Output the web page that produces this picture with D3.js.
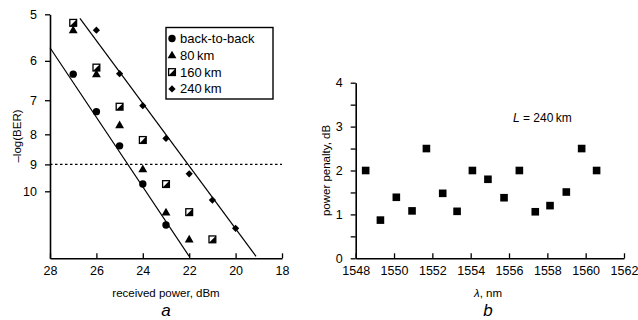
<!DOCTYPE html>
<html>
<head>
<meta charset="utf-8">
<script src="https://cdn.jsdelivr.net/npm/d3@7"></script>
<style>
  body { margin: 0; background: #fff; }
  svg { font-family: "Liberation Sans", Arial, sans-serif; }
  .axis path, .axis line { stroke: #000; }
  .axis text { font-size: 12.5px; fill: #000; }
</style>
</head>
<body>
<svg id="chart" width="638" height="320"></svg>
<script>
// panel a: received power (dBm) vs -log(BER)
var powerB2B = [27, 26, 25, 24, 23];
var berB2B = [6.32, 7.32, 8.37, 9.72, 11.41];
var power80 = [27, 26, 25, 24, 23, 22];
var ber80 = [5.32, 6.32, 7.72, 9.17, 10.86, 12.07];
var power160 = [27, 26, 25, 24, 23, 22, 21];
var ber160 = [5.17, 6.16, 7.18, 8.18, 9.72, 10.85, 12.07];
var power240 = [26, 25, 24, 23, 22, 21, 20];
var ber240 = [5.32, 6.31, 7.15, 8.13, 9.34, 10.35, 11.56];
// fitted lines (endpoints)
var fitLeft = [[28, 5.70], [22, 12.9]];
var fitRight = [[26.71, 5.08], [19.12, 12.9]];
var berLimit = 9;
var powerTicks = [28, 26, 24, 22, 20, 18];
var berTicks = [5, 6, 7, 8, 9, 10];
var legendNames = ["back-to-back", "80\u2009km", "160\u2009km", "240\u2009km"];

// panel b: power penalty vs wavelength, L = 240 km
var lambda = [1548.52, 1549.29, 1550.12, 1550.94, 1551.69, 1552.54, 1553.29, 1554.09,
              1554.9, 1555.74, 1556.54, 1557.37, 1558.14, 1558.99, 1559.79, 1560.57];
var penalty = [2.0, 0.87, 1.39, 1.08, 2.5, 1.48, 1.07, 2.0,
               1.8, 1.38, 2.0, 1.06, 1.2, 1.51, 2.5, 2.0];
var lambdaTicks = [1548, 1550, 1552, 1554, 1556, 1558, 1560, 1562];
var penaltyTicks = [0, 0.5, 1, 1.5, 2, 2.5, 3, 3.5, 4];

var svg = d3.select("#chart");

// ---------- panel a ----------
var xA = d3.scaleLinear().domain([28, 18]).range([50, 282]);
var yA = d3.scaleLog().domain([5, 13]).range([14.3, 258.3]);

var gA = svg.append("g");

gA.append("g")
    .attr("class", "axis")
    .attr("transform", "translate(50,0)")
    .call(d3.axisLeft(yA).tickValues(berTicks).tickFormat(d3.format("d"))
        .tickSizeInner(5).tickSizeOuter(0).tickPadding(8))
    .call(g => g.select(".domain").attr("stroke-width", 1.6))
    .call(g => g.selectAll(".tick line").attr("stroke-width", 1.3));

gA.append("g")
    .attr("class", "axis")
    .attr("transform", "translate(0,258.3)")
    .call(d3.axisBottom(xA).tickValues(powerTicks).tickFormat(d3.format("d"))
        .tickSizeInner(-5).tickSizeOuter(0).tickPadding(8))
    .call(g => g.select(".domain").attr("stroke-width", 1.6))
    .call(g => g.selectAll(".tick line").attr("stroke-width", 1.3));

// BER threshold line
gA.append("line")
    .attr("x1", xA(28)).attr("x2", xA(18))
    .attr("y1", yA(berLimit)).attr("y2", yA(berLimit))
    .attr("stroke", "#000").attr("stroke-width", 1.2)
    .attr("stroke-dasharray", "2.5,2.5");

var line = d3.line().x(d => xA(d[0])).y(d => yA(d[1]));
[fitLeft, fitRight].forEach(function (f) {
  gA.append("path").attr("d", line(f))
      .attr("fill", "none").attr("stroke", "#000").attr("stroke-width", 1.2);
});

// marker drawers
function circle(g, x, y) {
  g.append("circle").attr("cx", x).attr("cy", y).attr("r", 3.7).attr("fill", "#000");
}
function triangle(g, x, y) {
  g.append("path").attr("d", d3.symbol(d3.symbolTriangle, 34)())
      .attr("transform", "translate(" + x + "," + (y + 0.5) + ")").attr("fill", "#000");
}
function halfSquare(g, x, y) {
  var s = 3.4;
  g.append("rect").attr("x", x - s).attr("y", y - s).attr("width", 2 * s).attr("height", 2 * s)
      .attr("fill", "#fff").attr("stroke", "#000").attr("stroke-width", 1.3);
  g.append("path")
      .attr("d", "M" + (x + s) + "," + (y - s) + "L" + (x + s) + "," + (y + s) + "L" + (x - s) + "," + (y + s) + "Z")
      .attr("fill", "#000");
}
function diamond(g, x, y) {
  g.append("path").attr("d", d3.symbol(d3.symbolSquare, 26)())
      .attr("transform", "translate(" + x + "," + y + ") rotate(45)").attr("fill", "#000");
}

var series = [
  { x: powerB2B, y: berB2B, draw: circle },
  { x: power80, y: ber80, draw: triangle },
  { x: power160, y: ber160, draw: halfSquare },
  { x: power240, y: ber240, draw: diamond }
];
series.forEach(function (s) {
  s.x.forEach(function (p, i) { s.draw(gA, xA(p), yA(s.y[i])); });
});

// legend
var leg = gA.append("g");
leg.append("rect").attr("x", 166).attr("y", 27.5).attr("width", 107).attr("height", 71.5)
    .attr("fill", "#fff").attr("stroke", "#000").attr("stroke-width", 1.4);
legendNames.forEach(function (name, i) {
  var yy = 38.5 + i * 16.8;
  series[i].draw(leg, 172, yy);
  leg.append("text").attr("x", 180).attr("y", yy + 4.5)
      .attr("font-size", 13).text(name);
});

gA.append("text")
    .attr("transform", "translate(21,136) rotate(-90)")
    .attr("text-anchor", "middle").attr("font-size", 11.5)
    .text("\u2013log(BER)");
gA.append("text")
    .attr("x", 166).attr("y", 297)
    .attr("text-anchor", "middle").attr("font-size", 11.5)
    .text("received power, dBm");
gA.append("text")
    .attr("x", 166).attr("y", 316)
    .attr("text-anchor", "middle").attr("font-size", 17).attr("font-style", "italic")
    .text("a");

// ---------- panel b ----------
var xB = d3.scaleLinear().domain([1548, 1562]).range([355.7, 624]);
var yB = d3.scaleLinear().domain([0, 4]).range([258.3, 82.7]);

var gB = svg.append("g");

gB.append("g")
    .attr("class", "axis")
    .attr("transform", "translate(355.7,0)")
    .call(d3.axisLeft(yB).tickValues(penaltyTicks)
        .tickFormat(d => Number.isInteger(d) ? d : "")
        .tickSizeInner(5).tickSizeOuter(0).tickPadding(8))
    .call(g => g.select(".domain").attr("stroke-width", 1.6))
    .call(g => g.selectAll(".tick line").attr("stroke-width", 1.3));

gB.append("g")
    .attr("class", "axis")
    .attr("transform", "translate(0,258.3)")
    .call(d3.axisBottom(xB).tickValues(lambdaTicks).tickFormat(d3.format("d"))
        .tickSizeInner(-5).tickSizeOuter(0).tickPadding(8))
    .call(g => g.select(".domain").attr("stroke-width", 1.6))
    .call(g => g.selectAll(".tick line").attr("stroke-width", 1.3));

gB.selectAll("rect.pt")
    .data(lambda)
    .enter().append("rect")
    .attr("class", "pt")
    .attr("x", d => xB(d) - 3.8)
    .attr("y", (d, i) => yB(penalty[i]) - 3.8)
    .attr("width", 7.6).attr("height", 7.6)
    .attr("fill", "#000");

var lab = gB.append("text").attr("x", 513).attr("y", 122).attr("font-size", 12);
lab.append("tspan").attr("font-style", "italic").text("L");
lab.append("tspan").text(" = 240\u2009km");

gB.append("text")
    .attr("transform", "translate(330,170.5) rotate(-90)")
    .attr("text-anchor", "middle").attr("font-size", 11.5)
    .text("power penalty, dB");
var xl = gB.append("text")
    .attr("x", 488).attr("y", 297)
    .attr("text-anchor", "middle").attr("font-size", 11.5);
xl.append("tspan").attr("font-style", "italic").text("\u03bb");
xl.append("tspan").text(", nm");
gB.append("text")
    .attr("x", 488).attr("y", 316)
    .attr("text-anchor", "middle").attr("font-size", 17).attr("font-style", "italic")
    .text("b");
</script>
</body>
</html>
